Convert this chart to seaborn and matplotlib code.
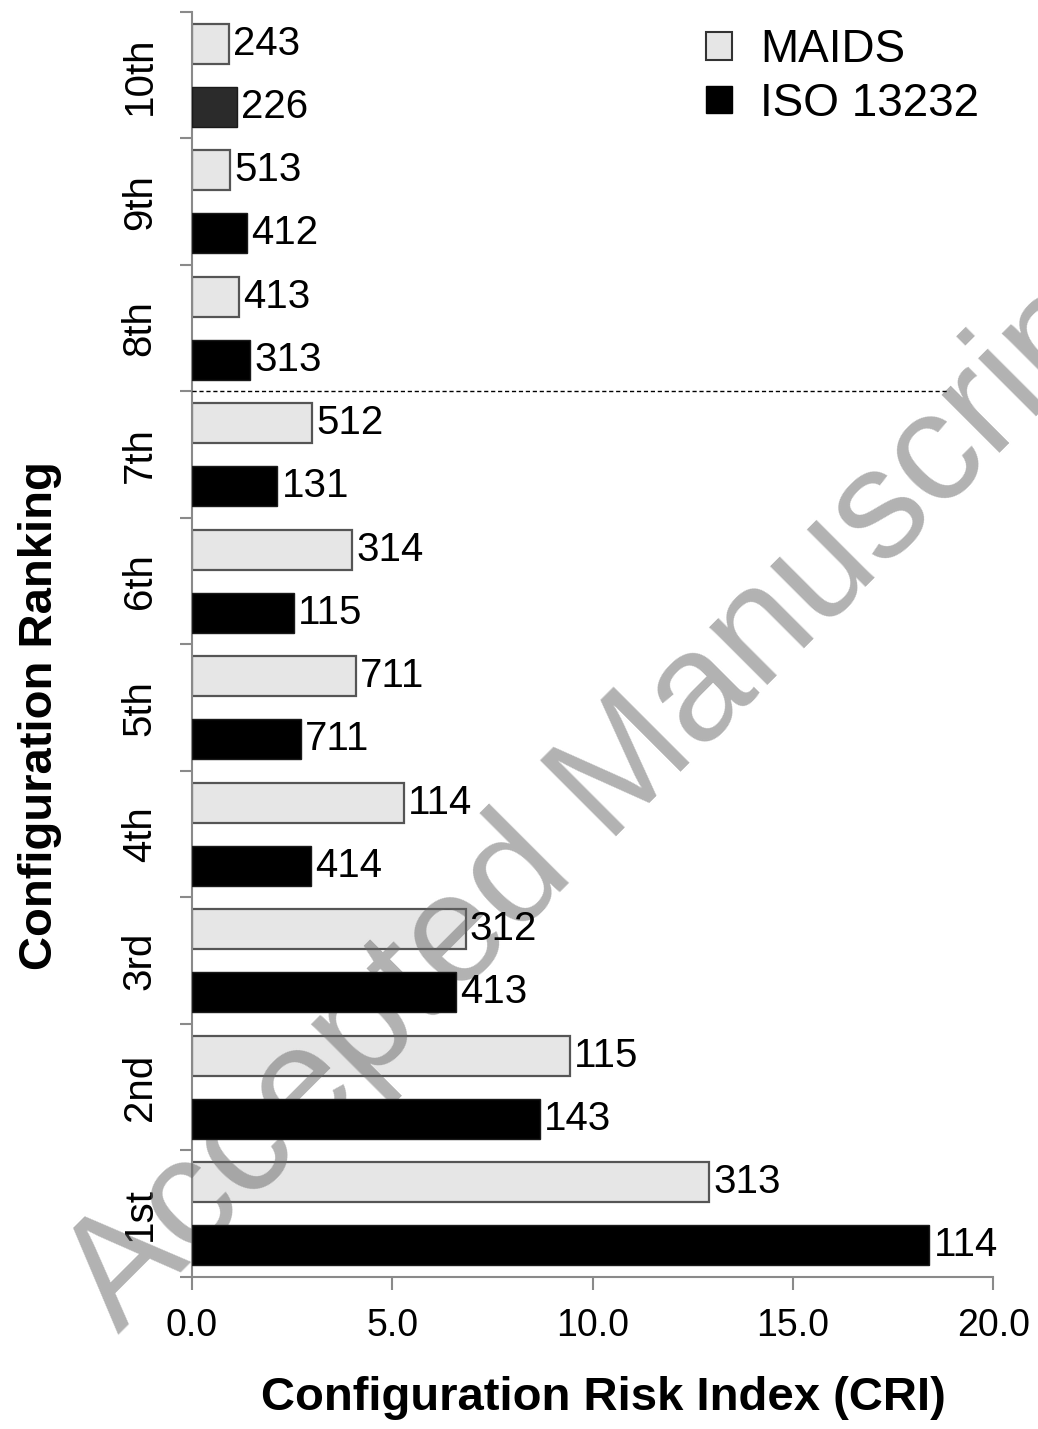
import pandas as pd
import matplotlib
matplotlib.use("Agg")
import matplotlib.pyplot as plt
from matplotlib.patches import Patch
from matplotlib.ticker import FixedLocator
import seaborn as sns

sns.set_theme(style="white")
plt.rcParams["font.family"] = ["Liberation Sans", "DejaVu Sans"]
plt.rcParams["text.color"] = "black"
plt.rcParams["axes.labelcolor"] = "black"
plt.rcParams["xtick.color"] = "black"
plt.rcParams["ytick.color"] = "black"

# --- donnees (rang 10 en haut -> rang 1 en bas) ---
rangs = ["10th", "9th", "8th", "7th", "6th", "5th", "4th", "3rd", "2nd", "1st"]
cri_maids = [0.92, 0.95, 1.17, 3.00, 3.99, 4.09, 5.29, 6.83, 9.43, 12.90]
cri_iso = [1.12, 1.38, 1.45, 2.13, 2.55, 2.72, 2.97, 6.59, 8.68, 18.40]
config_maids = ["243", "513", "413", "512", "314", "711", "114", "312", "115", "313"]
config_iso = ["226", "412", "313", "131", "115", "711", "414", "413", "143", "114"]
methodes = ["MAIDS", "ISO 13232"]

df = pd.DataFrame({
    "rang": rangs * 2,
    "cri": cri_maids + cri_iso,
    "methode": [methodes[0]] * len(rangs) + [methodes[1]] * len(rangs),
})

fig = plt.figure(figsize=(10.38, 14.29), dpi=100)
ax = fig.add_axes([0.185, 0.1064, 0.772, 0.8852])

sns.barplot(
    data=df, y="rang", x="cri", hue="methode", orient="h",
    order=rangs, hue_order=methodes,
    palette=["#e6e6e6", "#000000"], width=1.0, gap=0.368,
    errorbar=None, legend=False, ax=ax,
)

bars_maids, bars_iso = ax.containers[0], ax.containers[1]
for p in bars_maids:
    p.set_edgecolor("#555555")
    p.set_linewidth(1.6)
    p.set_zorder(2)
for p in bars_iso:
    p.set_edgecolor("#1a1a1a")
    p.set_linewidth(1.0)
    p.set_zorder(3)
bars_iso[0].set_facecolor("#2b2b2b")

ax.bar_label(bars_maids, labels=config_maids, padding=3, fontsize=29,
             color="black", zorder=4)
ax.bar_label(bars_iso, labels=config_iso, padding=3, fontsize=29,
             color="black", zorder=4)

# separation rang 7 / rang 8
ax.plot([0, 18.9], [2.5, 2.5], color="black", lw=1.0, ls=(0, (3, 2)), zorder=4)

ax.set_xlim(0, 20)
ax.set_ylim(9.5, -0.5)
ax.set_xticks([0, 5, 10, 15, 20])
ax.set_xticklabels(["0.0", "5.0", "10.0", "15.0", "20.0"], fontsize=27)
ax.yaxis.set_minor_locator(FixedLocator([i - 0.5 for i in range(len(rangs) + 1)]))
ax.tick_params(axis="y", which="major", length=0, pad=24, labelsize=29,
               labelrotation=90)
for t in ax.get_yticklabels():
    t.set_va("center")
ax.tick_params(axis="y", which="minor", left=True, length=9, width=1.5,
               color="#8a8a8a")
ax.tick_params(axis="x", which="major", bottom=True, length=9.5, width=1.5,
               color="#8a8a8a", pad=13)

for s in ["top", "right"]:
    ax.spines[s].set_visible(False)
for s in ["left", "bottom"]:
    ax.spines[s].set_color("#8a8a8a")
    ax.spines[s].set_linewidth(1.5)

ax.set_xlabel("Configuration Risk Index (CRI)", fontsize=34, fontweight="bold")
ax.set_ylabel("Configuration Ranking", fontsize=34, fontweight="bold")
ax.xaxis.set_label_coords(0.514, -0.078)
ax.yaxis.set_label_coords(-0.162, 0.444)

handles = [Patch(facecolor="#e6e6e6", edgecolor="#333333", lw=1.5),
           Patch(facecolor="black", edgecolor="black")]
ax.legend(handles, methodes, loc="upper left", bbox_to_anchor=(0.642, 0.987),
          frameon=False, fontsize=33, handlelength=0.55, handleheight=0.55,
          handletextpad=0.62, labelspacing=0.2, borderpad=0, borderaxespad=0)

# filigrane
ax.text(0.114, 0.066, "Accepted Manuscript", transform=fig.transFigure,
        fontsize=112, color="#666666", alpha=0.5, rotation=45,
        rotation_mode="anchor", ha="left", va="baseline",
        clip_on=False, zorder=2.6)

plt.savefig("out.png", dpi=100)
plt.close()
